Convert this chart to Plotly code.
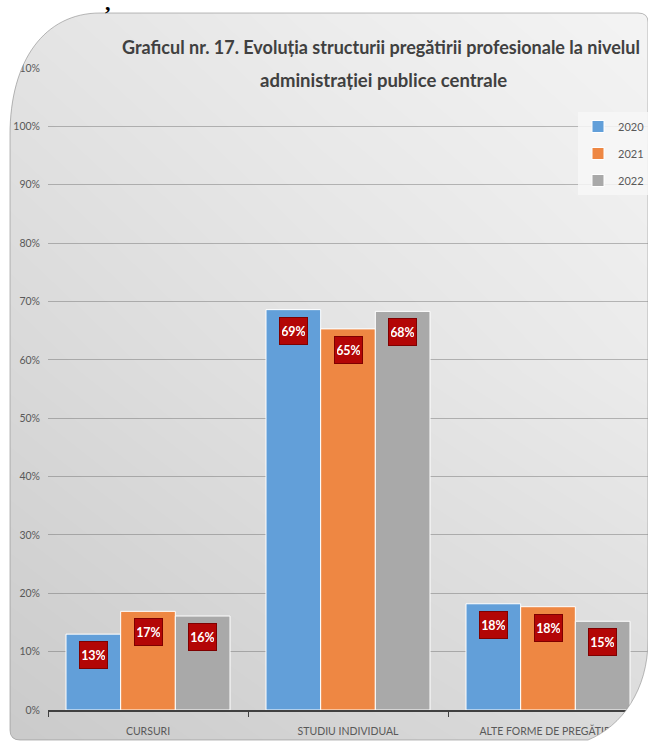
import plotly.graph_objects as go

# ---------------- data ----------------
categories = ["CURSURI", "STUDIU INDIVIDUAL", "ALTE FORME DE PREGĂTIRE"]
years = ["2020", "2021", "2022"]
values_2020 = [13.0, 68.6, 18.2]
values_2021 = [16.9, 65.3, 17.7]
values_2022 = [16.1, 68.3, 15.2]
series = [values_2020, values_2021, values_2022]
y_ticks = list(range(0, 111, 10))
y_tick_labels = [f"{t}%" for t in y_ticks]
title_line1 = "Graficul nr. 17. Evoluția structurii pregătirii profesionale la nivelul"
title_line2 = "administrației publice centrale"

# ---------------- style ----------------
W, H = 648, 744
FONT = "Lato, Roboto, sans-serif"
colors = ["#629FD9", "#EE8743", "#A9A9A9"]
BARGAP = 0.18

fig = go.Figure()

# background gradient (decorative frame fill)
bg_x = [0, W / 2, W]
bg_y = [0, H / 2, H]
bg_z = [[228, 237, 244], [216, 226, 235], [202, 211, 219]]
fig.add_trace(go.Heatmap(
    x=bg_x, y=bg_y, z=bg_z, zsmooth="best",
    colorscale=[[0, "rgb(0,0,0)"], [1, "rgb(255,255,255)"]],
    zmin=0, zmax=255, showscale=False, hoverinfo="skip",
    xaxis="x", yaxis="y", showlegend=False,
))

for yr, vals, c in zip(years, series, colors):
    fig.add_trace(go.Bar(
        x=categories, y=vals, name=yr, legendgroup=yr,
        marker=dict(color=c, line=dict(color="white", width=1)),
        xaxis="x2", yaxis="y2", hoverinfo="skip",
    ))

annotations = []
n = len(series)
bw = (1 - BARGAP) / n
for j, vals in enumerate(series):
    for i, v in enumerate(vals):
        annotations.append(dict(
            x=i + (j - (n - 1) / 2) * bw, y=v, xref="x2", yref="y2",
            text=f"{round(v)}%", showarrow=False, yshift=-21,
            font=dict(family=FONT, size=12.5, color="white", weight="bold"),
            bgcolor="#B30606", bordercolor="#7E0000", borderwidth=1,
            width=23, height=22, borderpad=2,
        ))

annotations.append(dict(
    x=381, y=47, xref="x", yref="y", text=title_line1, showarrow=False,
    font=dict(family=FONT, size=18, color="#404040", weight="bold"),
))
annotations.append(dict(
    x=383, y=80, xref="x", yref="y", text=title_line2, showarrow=False,
    font=dict(family=FONT, size=18.5, color="#404040", weight="bold"),
))
annotations.append(dict(
    x=103 / W, y=1, xref="paper", yref="paper", text=",", showarrow=False,
    yanchor="top", yshift=12,
    font=dict(family="Liberation Serif, serif", size=22, color="black", weight="bold"),
))

outer = "M -5,-5 L 653,-5 L 653,749 L -5,749 Z "
inner = ("M 100,13 C 45,13 10,60 10,135 L 10,730 Q 10,740 20,740 "
         "L 588,740 C 622,726 648,690 648,640 L 648,22 Q 648,13 638,13 Z")
shapes = [
    dict(type="path", path=outer + inner, xref="x", yref="y",
         fillcolor="white", line=dict(width=0), layer="above"),
    dict(type="path", path=inner, xref="x", yref="y",
         fillcolor="rgba(0,0,0,0)", line=dict(color="rgba(140,140,140,0.6)", width=1), layer="above"),
]

fig.update_layout(
    width=W, height=H,
    margin=dict(l=0, r=0, t=0, b=0, pad=0, autoexpand=False),
    paper_bgcolor="white", plot_bgcolor="rgba(0,0,0,0)",
    font=dict(family=FONT, size=12, color="#595959"),
    barmode="group", bargap=BARGAP, bargroupgap=0,
    xaxis=dict(domain=[0, 1], range=[0, W], visible=False, fixedrange=True),
    yaxis=dict(domain=[0, 1], range=[H, 0], visible=False, fixedrange=True),
    xaxis2=dict(domain=[48 / W, 1], anchor="y2", showline=True, linecolor="#404040",
                linewidth=2, ticks="outside", tickson="boundaries", ticklen=5,
                tickcolor="#404040", showgrid=False, ticklabelstandoff=10,
                automargin=False,
                tickfont=dict(family=FONT, size=10.5, color="#595959")),
    yaxis2=dict(domain=[1 - 710 / H, 1 - 68 / H], anchor="x2", range=[0, 110],
                tickvals=y_ticks, ticktext=y_tick_labels, showline=False, zeroline=False,
                gridcolor="rgba(100,100,100,0.42)", gridwidth=1, ticklabelstandoff=7,
                automargin=False,
                tickfont=dict(family=FONT, size=10.5, color="#595959")),
    legend=dict(x=578 / W, xanchor="left", y=1 - 112 / H, yanchor="top",
                bgcolor="rgba(247,247,247,0.85)", tracegroupgap=8,
                font=dict(family=FONT, size=11, color="#595959")),
    annotations=annotations,
    shapes=shapes,
)

fig.write_html(
    "out.html",
    config={"displayModeBar": False},
    post_script=(
        "document.documentElement.style.margin='0';"
        "document.documentElement.style.padding='0';"
        "document.documentElement.style.overflow='hidden';"
        "document.body.style.margin='0';"
        "document.body.style.padding='0';"
        "document.body.style.overflow='hidden';"
        "window.scrollTo(0,0);"
    ),
)
